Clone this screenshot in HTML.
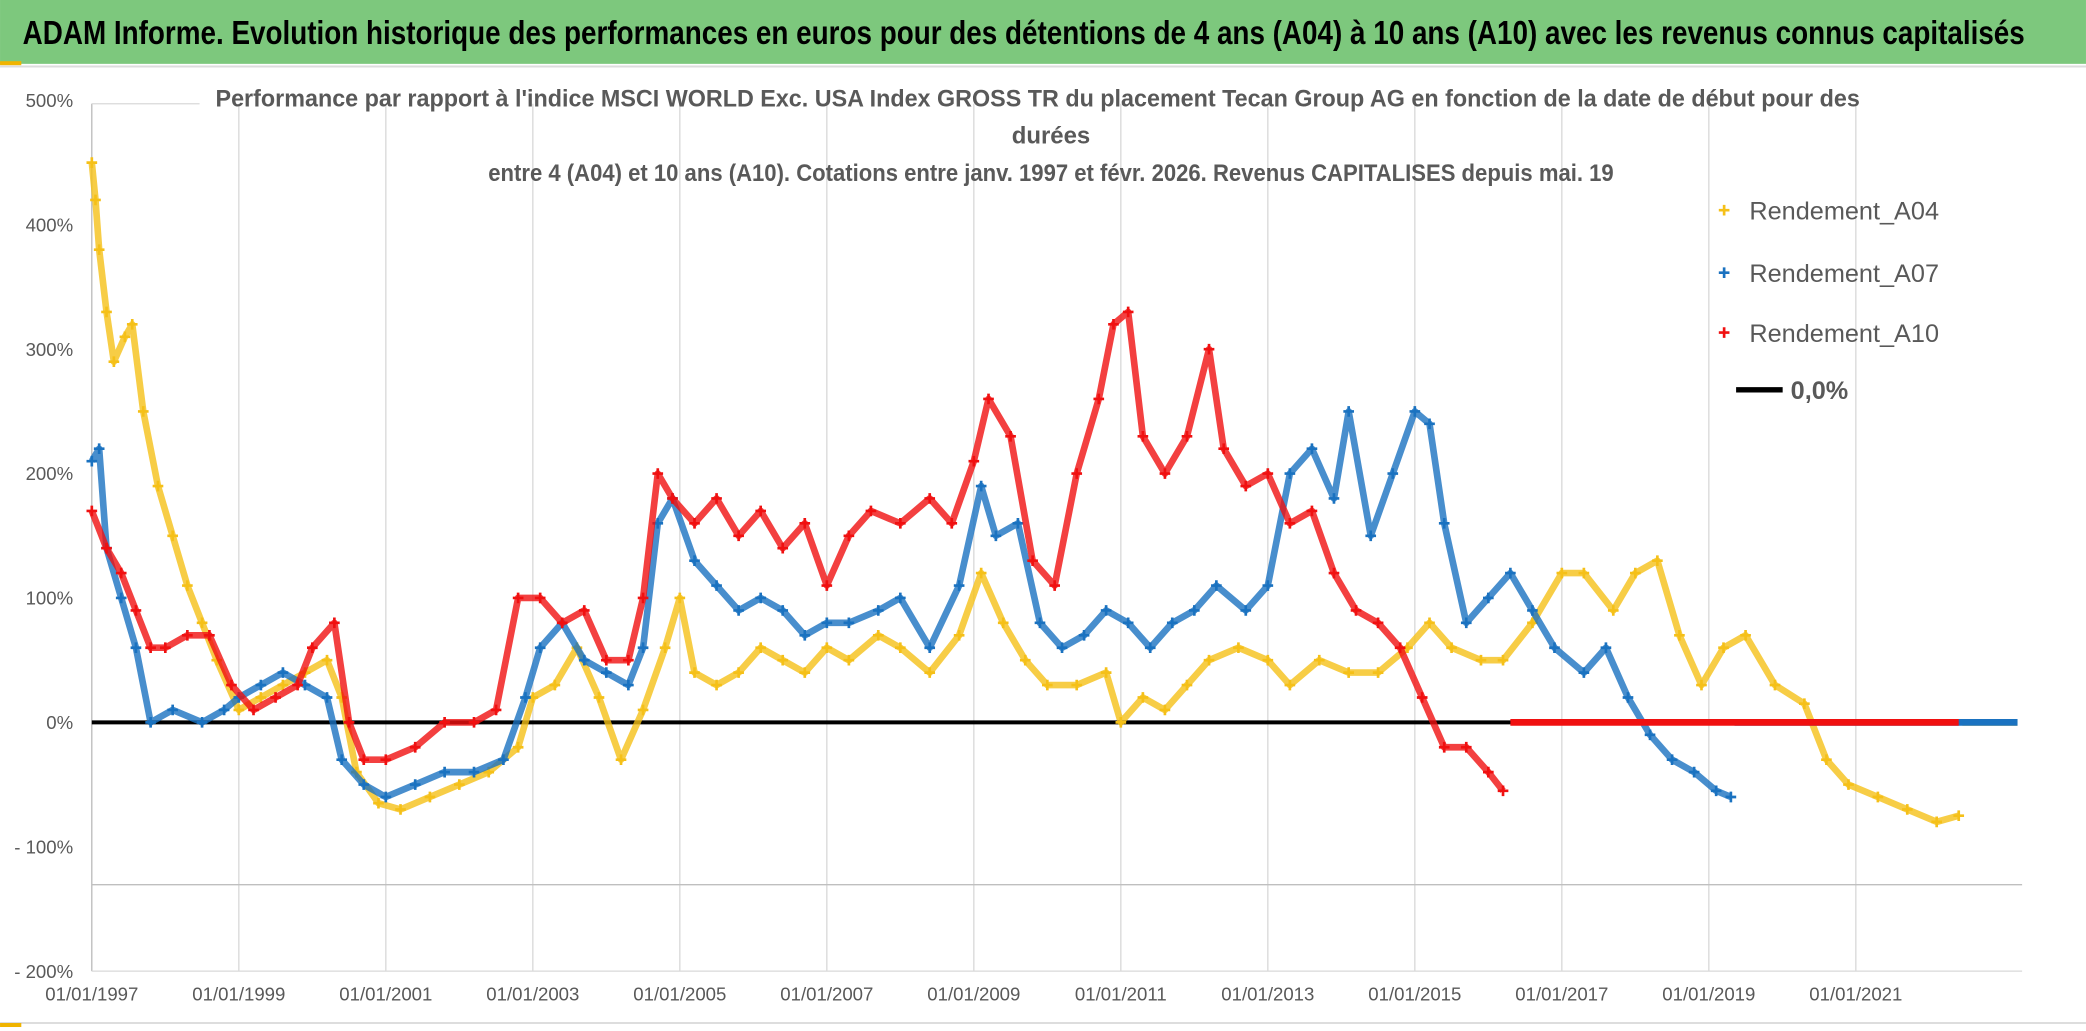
<!DOCTYPE html>
<html><head><meta charset="utf-8"><style>
html,body{margin:0;padding:0;background:#fff}
svg{display:block}
text{font-family:"Liberation Sans",sans-serif}
</style></head><body>
<svg id="c" width="2086" height="1031" viewBox="0 0 1568 775" xmlns="http://www.w3.org/2000/svg">
<rect x="0" y="0" width="1568" height="775" fill="#fff"/>
<rect x="0" y="0" width="1568" height="48" fill="#7dc87d"/>
<rect x="0" y="46" width="16" height="3" fill="#f0b400"/>
<line x1="0" y1="50" x2="1568" y2="50" stroke="#ddd" stroke-width="1.5"/>
<text x="17" y="33" font-size="25" font-weight="bold" fill="#000" textLength="1505" lengthAdjust="spacingAndGlyphs">ADAM Informe. Evolution historique des performances en euros pour des détentions de 4 ans (A04) à 10 ans (A10) avec les revenus connus capitalisés</text>
<line x1="0" y1="769" x2="1568" y2="769" stroke="#ddd" stroke-width="1.5"/>
<rect x="0" y="769" width="16" height="3" fill="#f0b400"/>
<g id="grid"></g>
<g id="plot"></g>
<g fill="#595959" font-size="18" font-weight="bold">
<text x="162" y="80" textLength="1236" lengthAdjust="spacingAndGlyphs">Performance par rapport à l'indice MSCI WORLD Exc. USA Index GROSS TR  du placement Tecan Group AG en fonction de la date de début pour des</text>
<text x="790" y="108" text-anchor="middle">durées</text>
<text x="367" y="136" textLength="846" lengthAdjust="spacingAndGlyphs">entre 4 (A04) et 10 ans (A10). Cotations entre janv. 1997 et févr. 2026. Revenus CAPITALISES depuis mai. 19</text>
</g>
<g id="legend"></g>
</svg>
<script>
const xTickYears=[1997,1999,2001,2003,2005,2007,2009,2011,2013,2015,2017,2019,2021];
const yTickVals=[500,400,300,200,100,0,-100,-200];
const a04Years=[1997.0,1997.05,1997.1,1997.2,1997.3,1997.45,1997.55,1997.7,1997.9,1998.1,1998.3,1998.5,1998.7,1999.0,1999.3,1999.6,1999.9,2000.2,2000.4,2000.6,2000.9,2001.2,2001.6,2002.0,2002.4,2002.8,2003.0,2003.3,2003.6,2003.9,2004.2,2004.5,2004.8,2005.0,2005.2,2005.5,2005.8,2006.1,2006.4,2006.7,2007.0,2007.3,2007.7,2008.0,2008.4,2008.8,2009.1,2009.4,2009.7,2010.0,2010.4,2010.8,2011.0,2011.3,2011.6,2011.9,2012.2,2012.6,2013.0,2013.3,2013.7,2014.1,2014.5,2014.9,2015.2,2015.5,2015.9,2016.2,2016.6,2017.0,2017.3,2017.7,2018.0,2018.3,2018.6,2018.9,2019.2,2019.5,2019.9,2020.3,2020.6,2020.9,2021.3,2021.7,2022.1,2022.4];
const a04Values=[450,420,380,330,290,310,320,250,190,150,110,80,50,10,20,30,40,50,20,-40,-65,-70,-60,-50,-40,-20,20,30,60,20,-30,10,60,100,40,30,40,60,50,40,60,50,70,60,40,70,120,80,50,30,30,40,0,20,10,30,50,60,50,30,50,40,40,60,80,60,50,50,80,120,120,90,120,130,70,30,60,70,30,15,-30,-50,-60,-70,-80,-75];
const a04ZeroFrom=2022.45, a04ZeroTo=2023.2;
const a07Years=[1997.0,1997.1,1997.2,1997.4,1997.6,1997.8,1998.1,1998.5,1998.8,1999.0,1999.3,1999.6,1999.9,2000.2,2000.4,2000.7,2001.0,2001.4,2001.8,2002.2,2002.6,2002.9,2003.1,2003.4,2003.7,2004.0,2004.3,2004.5,2004.7,2004.9,2005.2,2005.5,2005.8,2006.1,2006.4,2006.7,2007.0,2007.3,2007.7,2008.0,2008.4,2008.8,2009.1,2009.3,2009.6,2009.9,2010.2,2010.5,2010.8,2011.1,2011.4,2011.7,2012.0,2012.3,2012.7,2013.0,2013.3,2013.6,2013.9,2014.1,2014.4,2014.7,2015.0,2015.2,2015.4,2015.7,2016.0,2016.3,2016.6,2016.9,2017.3,2017.6,2017.9,2018.2,2018.5,2018.8,2019.1,2019.3];
const a07Values=[210,220,140,100,60,0,10,0,10,20,30,40,30,20,-30,-50,-60,-50,-40,-40,-30,20,60,80,50,40,30,60,160,180,130,110,90,100,90,70,80,80,90,100,60,110,190,150,160,80,60,70,90,80,60,80,90,110,90,110,200,220,180,250,150,200,250,240,160,80,100,120,90,60,40,60,20,-10,-30,-40,-55,-60];
const a07ZeroFrom=2019.35, a07ZeroTo=2023.2;
const a10Years=[1997.0,1997.2,1997.4,1997.6,1997.8,1998.0,1998.3,1998.6,1998.9,1999.2,1999.5,1999.8,2000.0,2000.3,2000.5,2000.7,2001.0,2001.4,2001.8,2002.2,2002.5,2002.8,2003.1,2003.4,2003.7,2004.0,2004.3,2004.5,2004.7,2004.9,2005.2,2005.5,2005.8,2006.1,2006.4,2006.7,2007.0,2007.3,2007.6,2008.0,2008.4,2008.7,2009.0,2009.2,2009.5,2009.8,2010.1,2010.4,2010.7,2010.9,2011.1,2011.3,2011.6,2011.9,2012.2,2012.4,2012.7,2013.0,2013.3,2013.6,2013.9,2014.2,2014.5,2014.8,2015.1,2015.4,2015.7,2016.0,2016.2];
const a10Values=[170,140,120,90,60,60,70,70,30,10,20,30,60,80,0,-30,-30,-20,0,0,10,100,100,80,90,50,50,100,200,180,160,180,150,170,140,160,110,150,170,160,180,160,210,260,230,130,110,200,260,320,330,230,200,230,300,220,190,200,160,170,120,90,80,60,20,-20,-20,-40,-55];
const a10ZeroFrom=2016.3, a10ZeroTo=2022.4;

const NS="http://www.w3.org/2000/svg";
const X0=69,X1=1515,Y0=543,YB=730;
function xs(yr){return X0+(yr-1997)*55.25;}
function ys(v){return Y0-v*0.935;}
function mk(tag,attrs,parent){const e=document.createElementNS(NS,tag);for(const k in attrs)e.setAttribute(k,attrs[k]);parent.appendChild(e);return e;}
const grid=document.getElementById('grid'),plot=document.getElementById('plot'),legend=document.getElementById('legend');
xTickYears.forEach(y=>{
  const x=xs(y);
  const l=mk('line',{x1:x,y1:78,x2:x,y2:YB,stroke:'#d9d9d9','stroke-width':1},grid);
  
  
  const t=mk('text',{x:x,y:752,'text-anchor':'middle','font-size':14,fill:'#595959'},grid);
  t.textContent='01/01/'+y;
  
  
});
mk('line',{x1:X0,y1:78,x2:X0,y2:YB,stroke:'#bfbfbf','stroke-width':1},grid);
mk('line',{x1:X0,y1:YB,x2:X1+5,y2:YB,stroke:'#d9d9d9','stroke-width':1},grid);
mk('line',{x1:X0,y1:665,x2:X1+5,y2:665,stroke:'#bfbfbf','stroke-width':1},grid);
mk('line',{x1:X0,y1:78,x2:150,y2:78,stroke:'#d9d9d9','stroke-width':1},grid);
yTickVals.forEach(v=>{
  const t=mk('text',{x:55,y:ys(v)+5,'text-anchor':'end','font-size':14,fill:'#595959'},grid);
  t.textContent=(v<0?'- ':'')+Math.abs(v)+'%';
  
  
});
const zl=mk('line',{x1:X0,y1:Y0,x2:X1,y2:Y0,stroke:'#000','stroke-width':3},plot);


function series(name,years,vals,zFrom,zTo,color){
  const g=mk('g',{},plot);
  
  
  const pts=years.map((y,i)=>xs(y)+','+ys(vals[i])).join(' ');
  mk('polyline',{points:pts,fill:'none',stroke:color,'stroke-width':5,'stroke-linejoin':'round','stroke-opacity':0.8},g);
  years.forEach((y,i)=>{
    const x=xs(y),yy=ys(vals[i]);
    const p=mk('path',{d:`M${x-4},${yy}h8M${x},${yy-4}v8`,stroke:color,'stroke-width':2},g);
    
    
  });
  mk('line',{x1:xs(zFrom),y1:Y0,x2:xs(zTo),y2:Y0,stroke:color,'stroke-width':5},g);
}
series('series-a04',a04Years,a04Values,a04ZeroFrom,a04ZeroTo,'#f5c018');
series('series-a07',a07Years,a07Values,a07ZeroFrom,a07ZeroTo,'#1a72c0');
series('series-a10',a10Years,a10Values,a10ZeroFrom,a10ZeroTo,'#f01010');
const legNames=['Rendement_A04','Rendement_A07','Rendement_A10'];
const legColors=['#f5c018','#1a72c0','#f01010'];
const legY=[158,205,250];
legNames.forEach((n,i)=>{
  const g=mk('g',{},legend);
  
  
  mk('path',{d:`M1292,${legY[i]}h8M1296,${legY[i]-4}v8`,stroke:legColors[i],'stroke-width':2},g);
  const t=mk('text',{x:1315,y:legY[i]+7,'font-size':19,fill:'#595959'},g);
  t.textContent=n;
});
{const g=mk('g',{},legend);


mk('line',{x1:1305,y1:293,x2:1340,y2:293,stroke:'#000','stroke-width':4},g);
const t=mk('text',{x:1346,y:300,'font-size':19,fill:'#595959','font-weight':'bold'},g);t.textContent='0,0%';}
</script>
</body></html>
